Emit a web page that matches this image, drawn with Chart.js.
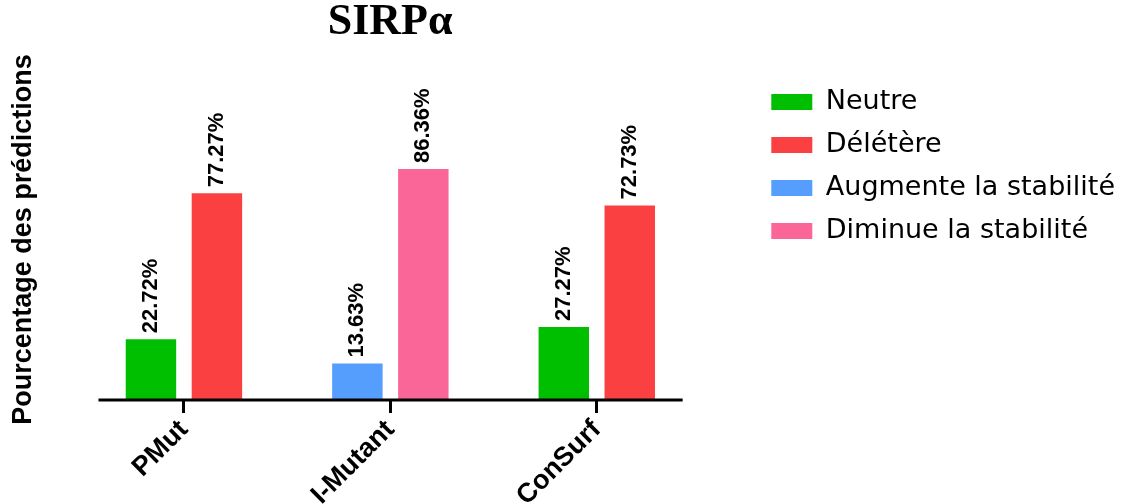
<!DOCTYPE html>
<html>
<head>
<meta charset="utf-8">
<script src="https://cdn.jsdelivr.net/npm/chart.js@4.4.1/dist/chart.umd.min.js"></script>
<style>
  html, body { margin: 0; padding: 0; background: #fff; }
  #wrap { width: 1137px; height: 504px; }
</style>
</head>
<body>
<div id="wrap"><canvas id="chart"></canvas></div>
<script>
// Data
const tools = ['PMut', 'I-Mutant', 'ConSurf'];
const neutre = [22.72, null, 27.27];
const deletere = [77.27, null, 72.73];
const augmente = [null, 13.63, null];
const diminue = [null, 86.36, null];
const yMax = 120;

const sans = '"Liberation Sans", Arial, sans-serif';

// x is a linear axis so the plot can keep the legend where it sits in the picture
const toPoints = arr => arr.map((v, i) => ({ x: i, y: v }));

// Rotated percentage labels above each bar
const barLabels = {
    id: 'barLabels',
    afterDatasetsDraw(chart) {
        const ctx = chart.ctx;
        ctx.save();
        ctx.fillStyle = '#000';
        ctx.font = 'bold 22px ' + sans;
        ctx.textAlign = 'left';
        ctx.textBaseline = 'middle';
        chart.data.datasets.forEach((ds, i) => {
            chart.getDatasetMeta(i).data.forEach((bar, j) => {
                const v = ds.data[j].y;
                if (v === null) return;
                ctx.save();
                ctx.translate(bar.x, bar.y - 6);
                ctx.rotate(-Math.PI / 2);
                ctx.fillText(v.toFixed(2) + '%', 0, 0);
                ctx.restore();
            });
        });
        ctx.restore();
    }
};

// Base line of the x axis and the y axis title
const axisDecor = {
    id: 'axisDecor',
    afterDatasetsDraw(chart) {
        const x = chart.scales.x;
        const y = chart.scales.y;
        const y0 = y.getPixelForValue(0);
        const ctx = chart.ctx;
        ctx.save();
        ctx.strokeStyle = '#000';
        ctx.lineWidth = 3;
        ctx.beginPath();
        ctx.moveTo(x.getPixelForValue(-0.414), y0);
        ctx.lineTo(x.getPixelForValue(2.416), y0);
        ctx.stroke();

        ctx.translate(24, (y.top + y.bottom) / 2);
        ctx.rotate(-Math.PI / 2);
        ctx.fillStyle = '#000';
        ctx.font = 'bold 27px ' + sans;
        ctx.textAlign = 'center';
        ctx.textBaseline = 'middle';
        ctx.fillText('Pourcentage des prédictions', 0, 0);
        ctx.restore();
    }
};

const ctx = document.getElementById('chart').getContext('2d');
new Chart(ctx, {
    type: 'bar',
    data: {
        datasets: [
            { label: 'Neutre', data: toPoints(neutre), backgroundColor: '#00BF00', skipNull: true },
            { label: 'Délétère', data: toPoints(deletere), backgroundColor: '#FA4040', skipNull: true },
            { label: 'Augmente la stabilité', data: toPoints(augmente), backgroundColor: '#569EFE', skipNull: true },
            { label: 'Diminue la stabilité', data: toPoints(diminue), backgroundColor: '#FB6699', skipNull: true }
        ]
    },
    options: {
        responsive: true,
        maintainAspectRatio: false,
        animation: false,
        layout: { padding: { left: 25, right: 12, top: 0, bottom: 0 } },
        datasets: {
            bar: { categoryPercentage: 0.639, barPercentage: 0.765, borderWidth: 0 }
        },
        scales: {
            x: {
                type: 'linear',
                offset: false,
                min: -0.770,
                max: 2.768,
                afterBuildTicks: s => { s.ticks = tools.map((t, i) => ({ value: i })); },
                grid: {
                    display: true,
                    offset: false,
                    drawOnChartArea: false,
                    drawTicks: true,
                    tickLength: 13,
                    tickWidth: 3,
                    tickColor: '#000'
                },
                border: { display: false },
                ticks: {
                    color: '#000',
                    font: { family: sans, size: 27, weight: 'bold' },
                    callback: v => tools[v],
                    maxRotation: 45,
                    minRotation: 45,
                    padding: 1
                },
                afterFit: s => { s.height = 104; }
            },
            y: {
                display: false,
                min: 0,
                max: yMax
            }
        },
        plugins: {
            title: {
                display: true,
                text: 'SIRPα',
                color: '#000',
                fullSize: false,
                font: { family: '"Liberation Serif", "Times New Roman", serif', size: 44, weight: 'bold' },
                padding: { top: -4, bottom: 30.2 }
            },
            legend: {
                position: 'right',
                align: 'start',
                fullSize: true,
                title: { display: true, text: '', font: { size: 10 }, padding: { top: 0, bottom: 60.5 } },
                labels: {
                    color: '#000',
                    boxWidth: 41,
                    boxHeight: 16,
                    padding: 16,
                    font: { family: '"DejaVu Sans", sans-serif', size: 27 }
                }
            },
            tooltip: { enabled: false }
        }
    },
    plugins: [axisDecor, barLabels]
});
</script>
</body>
</html>
